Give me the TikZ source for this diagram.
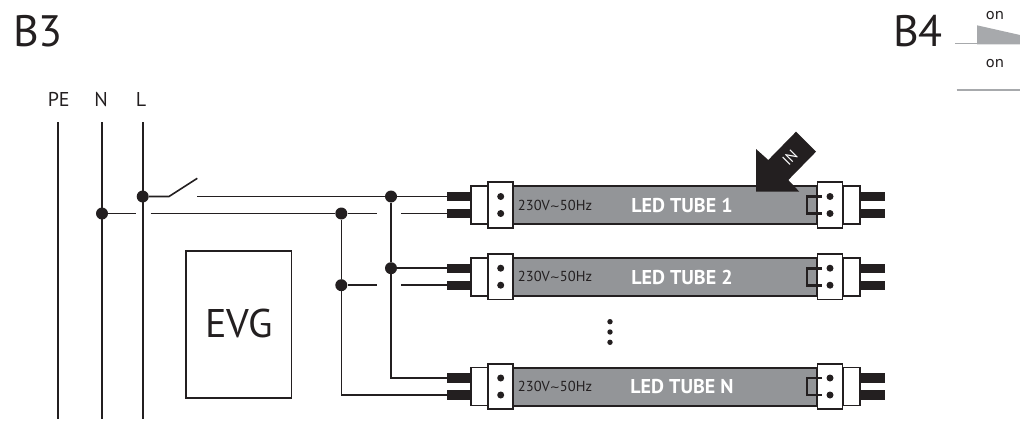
\documentclass[tikz,border=0pt]{standalone}
\usepackage{fontspec}
\setmainfont{PT Sans}
\newfontfamily\onfont{DejaVu Sans}
\usepackage{tikz}
\usetikzlibrary{positioning}
\usepackage{xcolor}
\definecolor{mdark}{HTML}{231F20}
\definecolor{mgray}{HTML}{939598}
\definecolor{mlight}{HTML}{A7A9AC}
\tikzstyle{wire}=[draw=mdark, line width=1.6]
\tikzstyle{junction}=[circle, fill=mdark, minimum size=12pt, inner sep=0pt]
\tikzstyle{pinblock}=[rectangle, fill=mdark, minimum width=24pt, minimum height=9.3pt, inner sep=0pt]
\tikzstyle{contact}=[circle, fill=mdark, minimum size=7pt, inner sep=0pt]
\tikzstyle{tube}=[rectangle, draw=mdark, fill=mgray, line width=2, minimum width=304pt, minimum height=38pt, inner sep=0pt]
\tikzstyle{capbox}=[rectangle, draw=mdark, fill=white, line width=1.6, minimum width=25pt, minimum height=45.5pt, inner sep=0pt]
\tikzstyle{collar}=[rectangle, draw=mdark, fill=white, line width=1.6, minimum width=17pt, minimum height=38pt, inner sep=0pt]
\tikzstyle{small}=[font=\fontsize{14.5}{14.5}\selectfont, text=mdark, inner sep=0pt]
\tikzstyle{tubename}=[font=\fontsize{20}{20}\selectfont\bfseries, text=white, inner sep=0pt]
\tikzstyle{big}=[font=\fontsize{44}{44}\selectfont, text=mdark, inner sep=0pt]
\tikzstyle{phase}=[font=\fontsize{20}{20}\selectfont, text=mdark, inner sep=0pt]
\tikzstyle{onlabel}=[font=\onfont\fontsize{14.5}{14.5}\selectfont, text=mdark, inner sep=0pt]

\begin{document}
\begin{tikzpicture}[x=1pt,y=-1pt]
    \useasboundingbox (0,0) rectangle (1020,423);

    % titles
    \node[big] (b3) at (38,31) {B3};
    \node[big] (b4) at (918,31) {B4};
    \node[onlabel] (on1) at (995,16) {on};
    \node[onlabel] (on2) at (995,64) {on};
    \coordinate (ramp0) at (955,43.7);
    \coordinate (ramp1) at (977,43.7);
    \coordinate (ramp2) at (977,25.3);
    \coordinate (ramp3) at (1020,35);
    \coordinate (base0) at (956.7,90);
    \coordinate (base1) at (1020,90);
    \draw[mlight, line width=1.3] (ramp0) -- (ramp1);
    \fill[mlight] (ramp1 |- 0,44.4) -- (ramp2) -- (ramp3) -- (1020,44.4) -- cycle;
    \draw[mlight, line width=1.3] (base0) -- (base1);

    % mains
    \node[phase] (pe) at (58.7,99) {PE};
    \node[phase] (n) at (101,99) {N};
    \node[phase] (l) at (141,99) {L};
    \coordinate (pe0) at (58,122);
    \coordinate (pe1) at (58,419);
    \coordinate (n0) at (102,122);
    \coordinate (n1) at (102,419);
    \coordinate (l0) at (142.7,122);
    \coordinate (l1) at (142.7,419);
    \draw[wire] (pe0) -- (pe1);
    \draw[wire] (n0) -- (n1);
    \draw[wire] (l0) -- (l1);

    % tubes
    \foreach \i/\y/\t in {1/205/1, 2/276.7/2, 3/386.5/N} {
        \node[pinblock] (pina\i) at (459,\y-8.5) {};
        \node[pinblock] (pinb\i) at (459,\y+8.5) {};
        \node[pinblock] (pinc\i) at (873,\y-8.5) {};
        \node[pinblock] (pind\i) at (873,\y+8.5) {};
        \node[tube] (tube\i) at (665,\y) {};
        \node[collar] (colla\i) at (479.5,\y) {};
        \node[collar] (collb\i) at (851.5,\y) {};
        \node[capbox] (capa\i) at (500.5,\y) {};
        \node[capbox] (capb\i) at (830,\y) {};
        \node[contact] (cona\i) at (500.7,\y-8.5) {};
        \node[contact] (conb\i) at (500.7,\y+8.5) {};
        \node[contact] (conc\i) at (830,\y-8.5) {};
        \node[contact] (cond\i) at (830,\y+8.5) {};
        \draw[mdark, line width=2.6] (822,\y-8.5) -- (807,\y-8.5) -- (807,\y+8.5) -- (822,\y+8.5);
        \node[small] (volt\i) at (555,\y) {230V{\onfont\fontsize{12}{12}\selectfont\char"007E}50Hz};
        \node[tubename] (label\i) at (682,\y+.5) {LED TUBE \t};
    }

    % arrow
    \fill[mdark] (756,149) -- (756,191.7) -- (799.3,191.7) -- (788.3,180) -- (816,151.7) -- (796,131.7) -- (768.3,160) -- cycle;
    \node[font=\fontsize{15}{15}\selectfont, text=white, rotate=45, inner sep=0pt] (in) at (790,158) {IN};

    % junctions
    \node[junction] (jl) at (142.7,196.5) {};
    \node[junction] (jn) at (102,213.5) {};
    \node[junction] (ja) at (391,196.5) {};
    \node[junction] (jb) at (391,268.2) {};
    \node[junction] (jc) at (341.3,213.5) {};
    \node[junction] (jd) at (341.3,285.2) {};

    % switch
    \coordinate (sw0) at (169,196.5);
    \coordinate (sw1) at (197.3,178.3);
    \coordinate (sw2) at (197.3,196.5);
    \draw[wire] (jl) -- (sw0) -- (sw1);
    \draw[wire] (sw2) -- (ja) -- (pina1);

    % neutral, with gaps
    \coordinate (gap0) at (136,213.5);
    \coordinate (gap1) at (150.7,213.5);
    \coordinate (gap2) at (376.7,213.5);
    \coordinate (gap3) at (401,213.5);
    \coordinate (gap4) at (376.7,285.2);
    \coordinate (gap5) at (401,285.2);
    \draw[wire] (jn) -- (gap0);
    \draw[wire] (gap1) -- (jc) -- (gap2);
    \draw[wire] (gap3) -- (pinb1);
    \draw[wire] (jd) -- (gap4);
    \draw[wire] (gap5) -- (pinb2);
    \draw[wire] (jb) -- (pina2);

    % risers
    \draw[wire] (ja) -- (jb) |- (pina3);
    \draw[wire] (jc) -- (jd) |- (pinb3);

    % ballast
    \node[draw=mdark, line width=1.6, minimum width=105.6pt, minimum height=147pt, inner sep=0pt] (evg) at (238.5,324.2) {};
    \node[big, font=\fontsize{40}{40}\selectfont] (evgtext) at (239,323) {EVG};

    % dots
    \node[contact, minimum size=5.4pt] (dot1) at (610,321.7) {};
    \node[contact, minimum size=5.4pt] (dot2) at (610,332) {};
    \node[contact, minimum size=5.4pt] (dot3) at (610,342.3) {};
\end{tikzpicture}
\end{document}
